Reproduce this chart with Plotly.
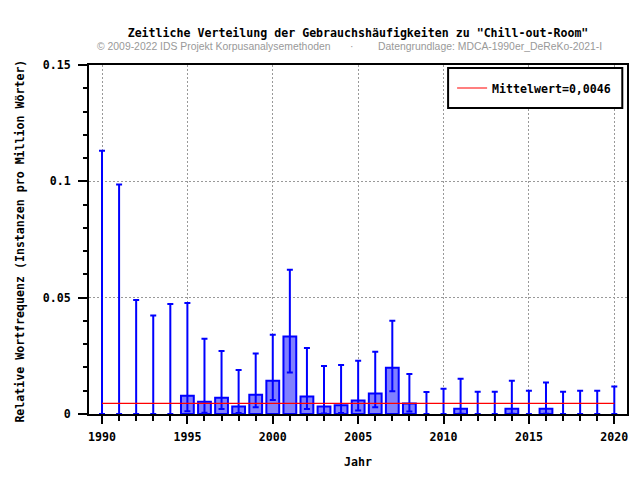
import plotly.graph_objects as go

years = list(range(1990, 2021))
freq = [0, 0, 0, 0, 0,
        0.0078, 0.0053, 0.0070, 0.0032, 0.0083,
        0.0143, 0.0333, 0.0075, 0.0032, 0.0038,
        0.0058, 0.0088, 0.0199, 0.0045, 0,
        0, 0.0023, 0, 0, 0.0023,
        0, 0.0023, 0, 0, 0, 0]
upper = [0.1131, 0.0986, 0.0490, 0.0423, 0.0473,
         0.0477, 0.0323, 0.0271, 0.0189, 0.0260,
         0.0341, 0.0620, 0.0284, 0.0206, 0.0211,
         0.0229, 0.0268, 0.0401, 0.0172, 0.0095,
         0.0109, 0.0152, 0.0096, 0.0096, 0.0143,
         0.0100, 0.0135, 0.0096, 0.0100, 0.0100, 0.0118]
lower = [0, 0, 0, 0, 0,
         0.0012, 0.0005, 0.0021, 0.0004, 0.0029,
         0.0060, 0.0178, 0.0021, 0.0002, 0.0004,
         0.0015, 0.0029, 0.0098, 0.0011, 0,
         0, 0.0001, 0, 0, 0.0001,
         0, 0.0001, 0, 0, 0, 0]
mean_value = 0.0046
mean_label = "Mittelwert=0,0046"

title = 'Zeitliche Verteilung der Gebrauchshäufigkeiten zu "Chill-out-Room"'
sub_left = "© 2009-2022 IDS Projekt Korpusanalysemethoden"
sub_mid = "·"
sub_right = "Datengrundlage: MDCA-1990er_DeReKo-2021-I"
x_title = "Jahr"
y_title = "Relative Wortfrequenz (Instanzen pro Million Wörter)"

MONO = "DejaVu Sans Mono"
FS = 11.6
SUBFS = 10.4

# plot area geometry (pixels)
L, R, T, B = 89.3, 626.7, 65, 414
W, H = R - L, B - T


def px(x):
    return (x - L) / W


def py(y):
    return (B - y) / H


fig = go.Figure()
fig.add_trace(go.Bar(
    x=years, y=freq, width=0.75,
    marker=dict(color="#8080ff",
                line=dict(color="#0000ff", width=[2 if f > 0 else 0 for f in freq])),
    error_y=dict(type="data", symmetric=False,
                 array=[u - f for u, f in zip(upper, freq)],
                 arrayminus=[f - l for f, l in zip(freq, lower)],
                 color="#0000ff", thickness=2, width=3),
    showlegend=False,
))
fig.add_trace(go.Scatter(
    x=[years[0], years[-1]], y=[mean_value, mean_value], mode="lines",
    line=dict(color="#ff0000", width=1.2), name=mean_label,
))

axis_common = dict(showline=True, linecolor="black", linewidth=2, mirror=True,
                   ticks="outside", tickwidth=2, tickcolor="black",
                   showgrid=True, gridcolor="#999999", gridwidth=1, griddash="2px,2px",
                   zeroline=False,
                   tickfont=dict(family=MONO, size=FS, color="black", weight="bold"))

fig.update_layout(
    width=640, height=480,
    margin=dict(l=L, r=640 - R, t=T, b=480 - B, pad=0),
    plot_bgcolor="white", paper_bgcolor="white",
    title=dict(text=title, x=0.5, xref="paper", y=1 - 33 / 480, yref="container",
               yanchor="middle", xanchor="center",
               font=dict(family=MONO, size=FS, color="black", weight="bold")),
    xaxis=dict(range=[1989.238, 2020.744], tick0=1990, dtick=5, ticklen=8,
               ticklabelstandoff=3,
               minor=dict(dtick=1, tick0=1990, ticks="outside", ticklen=5,
                          tickwidth=2, tickcolor="black", showgrid=False),
               **axis_common),
    yaxis=dict(range=[0, 0.15], tick0=0, dtick=0.05, ticklen=9,
               ticklabelstandoff=5,
               minor=dict(dtick=0.01, tick0=0, ticks="outside", ticklen=4,
                          tickwidth=2, tickcolor="black", showgrid=False),
               **axis_common),
    legend=dict(x=px(452), xanchor="left", y=py(88), yanchor="middle",
                bgcolor="rgba(0,0,0,0)", borderwidth=0,
                font=dict(family=MONO, size=FS, color="black", weight="bold")),
    shapes=[dict(type="rect", xref="paper", yref="paper",
                 x0=px(448), x1=px(622), y0=py(108), y1=py(68),
                 fillcolor="white", line=dict(color="black", width=2), layer="above")],
    annotations=[
        dict(text=sub_left, x=px(95), y=py(46), xref="paper", yref="paper",
             xanchor="left", yanchor="middle", showarrow=False,
             font=dict(family="Liberation Sans", size=SUBFS, color="#999999")),
        dict(text=sub_mid, x=px(352), y=py(46), xref="paper", yref="paper",
             xanchor="center", yanchor="middle", showarrow=False,
             font=dict(family="Liberation Sans", size=SUBFS, color="#999999")),
        dict(text=sub_right, x=px(376), y=py(46), xref="paper", yref="paper",
             xanchor="left", yanchor="middle", showarrow=False,
             font=dict(family="Liberation Sans", size=SUBFS, color="#999999")),
        dict(text=x_title, x=0.5, y=py(462), xref="paper", yref="paper",
             xanchor="center", yanchor="middle", showarrow=False,
             font=dict(family=MONO, size=FS, color="black", weight="bold")),
        dict(text=y_title, x=px(20), y=py(241), xref="paper", yref="paper",
             xanchor="center", yanchor="middle", showarrow=False, textangle=-90,
             font=dict(family=MONO, size=FS, color="black", weight="bold")),
    ],
)

fig.write_html("out.html")
